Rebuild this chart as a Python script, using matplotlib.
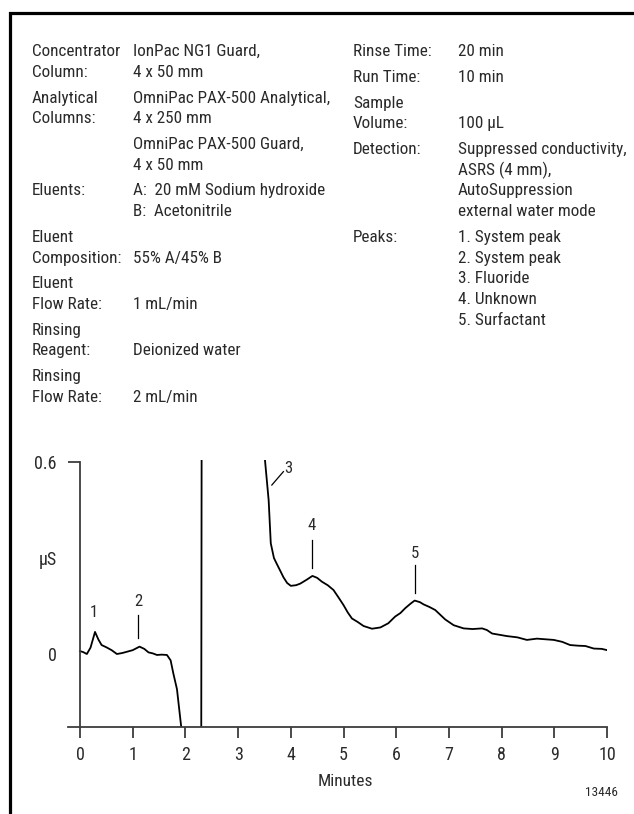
import matplotlib
matplotlib.use("Agg")
import matplotlib.pyplot as plt
from matplotlib import font_manager
from matplotlib.patches import Rectangle

# pick a narrow sans for the Univers-Condensed look of the original
cand = []
for f in font_manager.fontManager.ttflist:
    nm = f.name.lower()
    narrow = ('narrow' in nm or 'condensed' in nm or
              str(f.stretch) in ('condensed', 'semi-condensed', 'extra-condensed', '500', '600', '700'))
    if narrow and f.style == 'normal' and f.weight in (300, 400, 'normal', 'regular', 'light'):
        cand.append(f)
pref = ['liberation sans narrow', 'roboto condensed', 'noto sans', 'open sans', 'dejavu sans']
cand.sort(key=lambda f: next((i for i, p in enumerate(pref) if f.name.lower().startswith(p)), 99))
FONT = cand[0].fname if cand else font_manager.findfont('Liberation Sans')

# chromatogram trace (minutes, uS)
t = [0.0, 0.06, 0.13, 0.2, 0.285, 0.35, 0.41, 0.5, 0.6, 0.7, 0.8, 0.89,
     1.0, 1.13, 1.22, 1.3, 1.38, 1.46, 1.55, 1.65, 1.72, 1.77, 1.84, 1.92,
     1.95, 2.30, 2.31, 3.45, 3.51, 3.58, 3.62, 3.68, 3.73, 3.8, 3.86, 3.93,
     4.0, 4.1, 4.18, 4.3, 4.41, 4.5, 4.59, 4.7, 4.81, 4.9, 5.0, 5.08, 5.16,
     5.27, 5.38, 5.54, 5.7, 5.85, 5.98, 6.08, 6.17, 6.27, 6.35, 6.45, 6.52,
     6.63, 6.74, 6.84, 6.93, 7.09, 7.28, 7.45, 7.63, 7.72, 7.82, 8.1, 8.3,
     8.48, 8.67, 8.99, 9.15, 9.3, 9.45, 9.59, 9.75, 9.9, 9.99]
us = [0.009, 0.006, 0.0, 0.02, 0.069, 0.045, 0.028, 0.021, 0.012, 0.0, 0.003,
      0.007, 0.012, 0.023, 0.016, 0.005, 0.002, -0.003, -0.002, -0.003, -0.02,
      -0.06, -0.11, -0.227, -0.35, -0.35, 0.9, 0.9, 0.606, 0.48, 0.346, 0.3,
      0.283, 0.26, 0.24, 0.222, 0.213, 0.215, 0.22, 0.232, 0.244, 0.238, 0.226,
      0.215, 0.2, 0.178, 0.153, 0.13, 0.111, 0.1, 0.0875, 0.079, 0.083, 0.096,
      0.117, 0.128, 0.143, 0.157, 0.167, 0.162, 0.155, 0.147, 0.1375, 0.122,
      0.108, 0.09, 0.08, 0.078, 0.08, 0.075, 0.064, 0.056, 0.052, 0.044, 0.048,
      0.044, 0.038, 0.028, 0.026, 0.025, 0.017, 0.016, 0.0125]

# peak labels: (label, x, text y, line bottom, line top)
peak_names = ['1', '2', '4', '5']
peak_x = [0.266, 1.11, 4.40, 6.35]
peak_text_y = [0.129, 0.163, 0.403, 0.315]
peak_line_lo = [None, 0.049, 0.268, 0.19]
peak_line_hi = [None, 0.122, 0.356, 0.278]

xticks = list(range(11))

left_rows = [("Concentrator", "IonPac NG1 Guard,"), ("Column:", "4 x 50 mm"),
             ("Analytical", "OmniPac PAX-500 Analytical,"), ("Columns:", "4 x 250 mm"),
             ("", "OmniPac PAX-500 Guard,"), ("", "4 x 50 mm"),
             ("Eluents:", "A:  20 mM Sodium hydroxide"), ("", "B:  Acetonitrile"),
             ("Eluent", ""), ("Composition:", "55% A/45% B"),
             ("Eluent", ""), ("Flow Rate:", "1 mL/min"),
             ("Rinsing", ""), ("Reagent:", "Deionized water"),
             ("Rinsing", ""), ("Flow Rate:", "2 mL/min")]
left_groups = [2, 2, 2, 2, 2, 2, 2, 2]
right_rows = [("Rinse Time:", "20 min"), ("Run Time:", "10 min"),
              ("Sample", ""), ("Volume:", "100 \u00b5L"),
              ("Detection:", "Suppressed conductivity,"), ("", "ASRS (4 mm),"),
              ("", "AutoSuppression"), ("", "external water mode"),
              ("Peaks:", "1. System peak"), ("", "2. System peak"), ("", "3. Fluoride"),
              ("", "4. Unknown"), ("", "5. Surfactant")]
right_groups = [1, 1, 2, 4, 5]

W, H = 634, 814
fig = plt.figure(figsize=(W / 100, H / 100), dpi=100)
txt = '#2a2a2a'


def fp(size):
    return font_manager.FontProperties(fname=FONT, size=size)


# frame
fig.patches.append(Rectangle((10 / W, -0.1), 1.2, 1 - 13.3 / H + 0.1,
                             transform=fig.transFigure, fill=False,
                             edgecolor='black', linewidth=2.3))


def put_rows(rows, groups, xl, xv, y0):
    y = y0
    i = 0
    for g in groups:
        for k in range(g):
            lab, val = rows[i]
            fig.text(xl / W, 1 - y / H, lab, fontproperties=fp(12.3), color=txt, va='center')
            fig.text(xv / W, 1 - y / H, val, fontproperties=fp(12.3), color=txt, va='center')
            i += 1
            if k < g - 1:
                y += 20.7
        y += 25.7


put_rows(left_rows, left_groups, 32, 133, 51.7)
put_rows(right_rows, right_groups, 353, 458, 51.7)

# chart axes (pixel box: x 68..607, y 460..727)
ax = fig.add_axes([68 / W, 1 - 727 / H, (607 - 68) / W, (727 - 460) / H])
ax.set_xlim(-12 / 52.7, 10)
ax.set_ylim(-73 / 320, 194 / 320)
ax.patch.set_visible(False)

ax.plot(t, us, color='black', lw=1.3)

for name, x, ty, lo, hi in zip(peak_names, peak_x, peak_text_y, peak_line_lo, peak_line_hi):
    ax.text(x, ty, name, fontproperties=fp(12), color=txt, ha='center', va='center')
    if lo is not None:
        ax.plot([x, x], [lo, hi], color='black', lw=0.9)
# peak 3 label with slanted leader
ax.plot([3.64, 3.86], [0.528, 0.57], color='black', lw=0.9)
ax.text(3.96, 0.58, '3', fontproperties=fp(12), color=txt, ha='center', va='center')

for s in ['top', 'right']:
    ax.spines[s].set_visible(False)
ax.spines['left'].set_position(('data', 0))
ax.spines['left'].set_bounds(ax.get_ylim()[0], 0.6)
for s in ['left', 'bottom']:
    ax.spines[s].set_color('#3d3d3d')
    ax.spines[s].set_linewidth(1.3)

ax.set_xticks(xticks)
ax.set_xticklabels([str(v) for v in xticks], fontproperties=fp(13))
ax.set_yticks([0, 0.6])
ax.set_yticklabels(['0', '0.6'], fontproperties=fp(13))
ax.tick_params(axis='x', direction='out', length=8, width=1.3, color='#3d3d3d',
               labelcolor=txt, pad=6)
ax.tick_params(axis='y', direction='out', length=9, width=1.3, color='#3d3d3d',
               labelcolor=txt, pad=8)
ax.yaxis.get_major_ticks()[0].tick1line.set_visible(False)

ax.text(-0.61, 0.294, '\u00b5S', fontproperties=fp(13), color=txt, ha='center', va='center')
fig.text(345.7 / W, 1 - 781.7 / H, 'Minutes', fontproperties=fp(12.5), color=txt,
         ha='center', va='center')
fig.text(601 / W, 1 - 793 / H, '13446', fontproperties=fp(9.5), color=txt,
         ha='center', va='center')

fig.savefig('out.png', dpi=100)
